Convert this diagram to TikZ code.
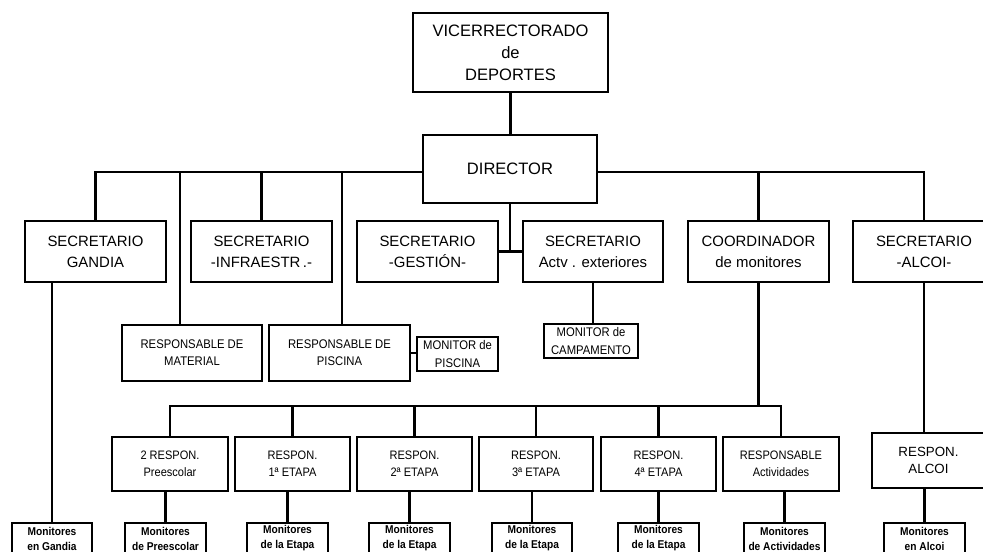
\documentclass[tikz,border=0pt]{standalone}
\usepackage{fontspec}
\setmainfont{Liberation Sans}
\newfontfamily\narrowfont[FakeStretch=0.9]{Liberation Sans}
\tikzset{
  box/.style={draw, rectangle, line width=1.6pt, inner sep=0pt, align=center, fill=white},
  conn/.style={line width=1.6pt},
  fA/.style={font=\fontsize{12.4}{16.5}\selectfont},
  fB/.style={font=\fontsize{11.2}{15.7}\selectfont},
  fC/.style={font=\narrowfont\fontsize{9.4}{12.8}\selectfont},
  fD/.style={font=\narrowfont\fontsize{9.2}{13}\selectfont},
  fE/.style={font=\fontsize{10}{13.3}\selectfont},
  fF/.style={font=\narrowfont\bfseries\fontsize{8.5}{11.2}\selectfont},
}
% \mybox[style]{name}{x1}{y1}{x2}{y2}{text}
\newcommand\mybox[7][]{%
  \node[box,#1,minimum width={(#5-#3)*0.75pt},minimum height={(#6-#4)*0.75pt}]
    (#2) at ({(#3+#5)/2},{(#4+#6)/2}) {#7};}
\begin{document}
\begin{tikzpicture}[x=0.75pt,y=-0.75pt]
\useasboundingbox (0,0) rectangle (983,551);
\clip (0,0) rectangle (983,551);

% top
\mybox[fA]{vice}{413}{13}{608}{92}{VICERRECTORADO\\de\\DEPORTES}
\mybox[fA]{dir}{423}{135}{597}{203}{DIRECTOR}

% secretarios
\mybox[fB]{gandia}{25}{221}{166}{282}{SECRETARIO\\GANDIA}
\mybox[fB]{infra}{191}{221}{332}{282}{SECRETARIO\\-INFRAESTR\,.-}
\mybox[fB]{gest}{357}{221}{498}{282}{SECRETARIO\\-GESTIÓN-}
\mybox[fB]{ext}{523}{221}{663}{282}{SECRETARIO\\Actv . exteriores}
\mybox[fB]{coord}{688}{221}{829}{282}{COORDINADOR\\de monitores}
\mybox[fB]{salcoi}{853}{221}{995}{282}{SECRETARIO\\-ALCOI-}

% middle
\mybox[fC]{mat}{122}{325}{262}{381}{RESPONSABLE DE\\MATERIAL}
\mybox[fC]{pisc}{269}{325}{410}{381}{RESPONSABLE DE\\PISCINA}
\mybox[fC]{monp}{417}{337}{498}{371}{MONITOR de\\PISCINA}
\mybox[fC]{camp}{544}{324}{638}{358}{MONITOR de\\CAMPAMENTO}

% responsables
\mybox[fD]{rpre}{112}{437}{228}{491}{2 RESPON.\\Preescolar}
\mybox[fD]{re1}{235}{437}{350}{491}{RESPON.\\1ª ETAPA}
\mybox[fD]{re2}{357}{437}{472}{491}{RESPON.\\2ª ETAPA}
\mybox[fD]{re3}{479}{437}{593}{491}{RESPON.\\3ª ETAPA}
\mybox[fD]{re4}{601}{437}{716}{491}{RESPON.\\4ª ETAPA}
\mybox[fD]{ract}{723}{437}{839}{491}{RESPONSABLE\\Actividades}
\mybox[fE]{ralcoi}{872}{433}{985}{488}{RESPON.\\ALCOI}

% monitores
\mybox[fF]{mgan}{12}{523}{92}{554}{Monitores\\en Gandia}
\mybox[fF]{mpre}{125}{523}{206}{554}{Monitores\\de Preescolar}
\mybox[fF]{me1}{247}{523}{328}{554}{Monitores\\de la Etapa}
\mybox[fF]{me2}{369}{523}{450}{554}{Monitores\\de la Etapa}
\mybox[fF]{me3}{492}{523}{572}{554}{Monitores\\de la Etapa}
\mybox[fF]{me4}{618}{523}{699}{554}{Monitores\\de la Etapa}
\mybox[fF]{mact}{744}{523}{825}{554}{Monitores\\de Actividades}
\mybox[fF]{malc}{884}{523}{965}{554}{Monitores\\en Alcoi}

% connectors
\coordinate (busy) at (0,172);
\coordinate (lbusy) at (0,406);
\coordinate (mdrop) at (180,172);
\coordinate (pdrop) at (342,172);

\draw[conn] (vice.south) -- (vice.south |- dir.north);
\draw[conn] (dir.west |- busy) -| (gandia.north);
\draw[conn] (dir.east |- busy) -| (salcoi.north);
\draw[conn] (infra.north) -- (infra.north |- busy);
\draw[conn] (mdrop) -- (mdrop |- mat.north);
\draw[conn] (pdrop) -- (pdrop |- pisc.north);
\draw[conn] (coord.north) -- (coord.north |- busy);
\draw[conn] (dir.south) -- (dir.south |- gest.east);
\draw[conn] (gest.east) -- (ext.west);
\draw[conn] (ext.south) -- (ext.south |- camp.north);
\draw[conn] (pisc.east) -- (pisc.east -| monp.west);
\draw[conn] (mgan.north) -- (mgan.north |- gandia.south);
\draw[conn] (coord.south) -- (coord.south |- lbusy);
\draw[conn] (rpre.north) -- (rpre.north |- lbusy) -- (ract.north |- lbusy) -- (ract.north);
\foreach \r in {re1,re2,re3,re4}
  \draw[conn] (\r.north) -- (\r.north |- lbusy);
\foreach \r/\m in {rpre/mpre,re1/me1,re2/me2,re3/me3,re4/me4,ract/mact}
  \draw[conn] (\m.north) -- (\m.north |- \r.south);
\draw[conn] (salcoi.south) -- (salcoi.south |- ralcoi.north);
\draw[conn] (malc.north) -- (malc.north |- ralcoi.south);
\end{tikzpicture}
\end{document}
